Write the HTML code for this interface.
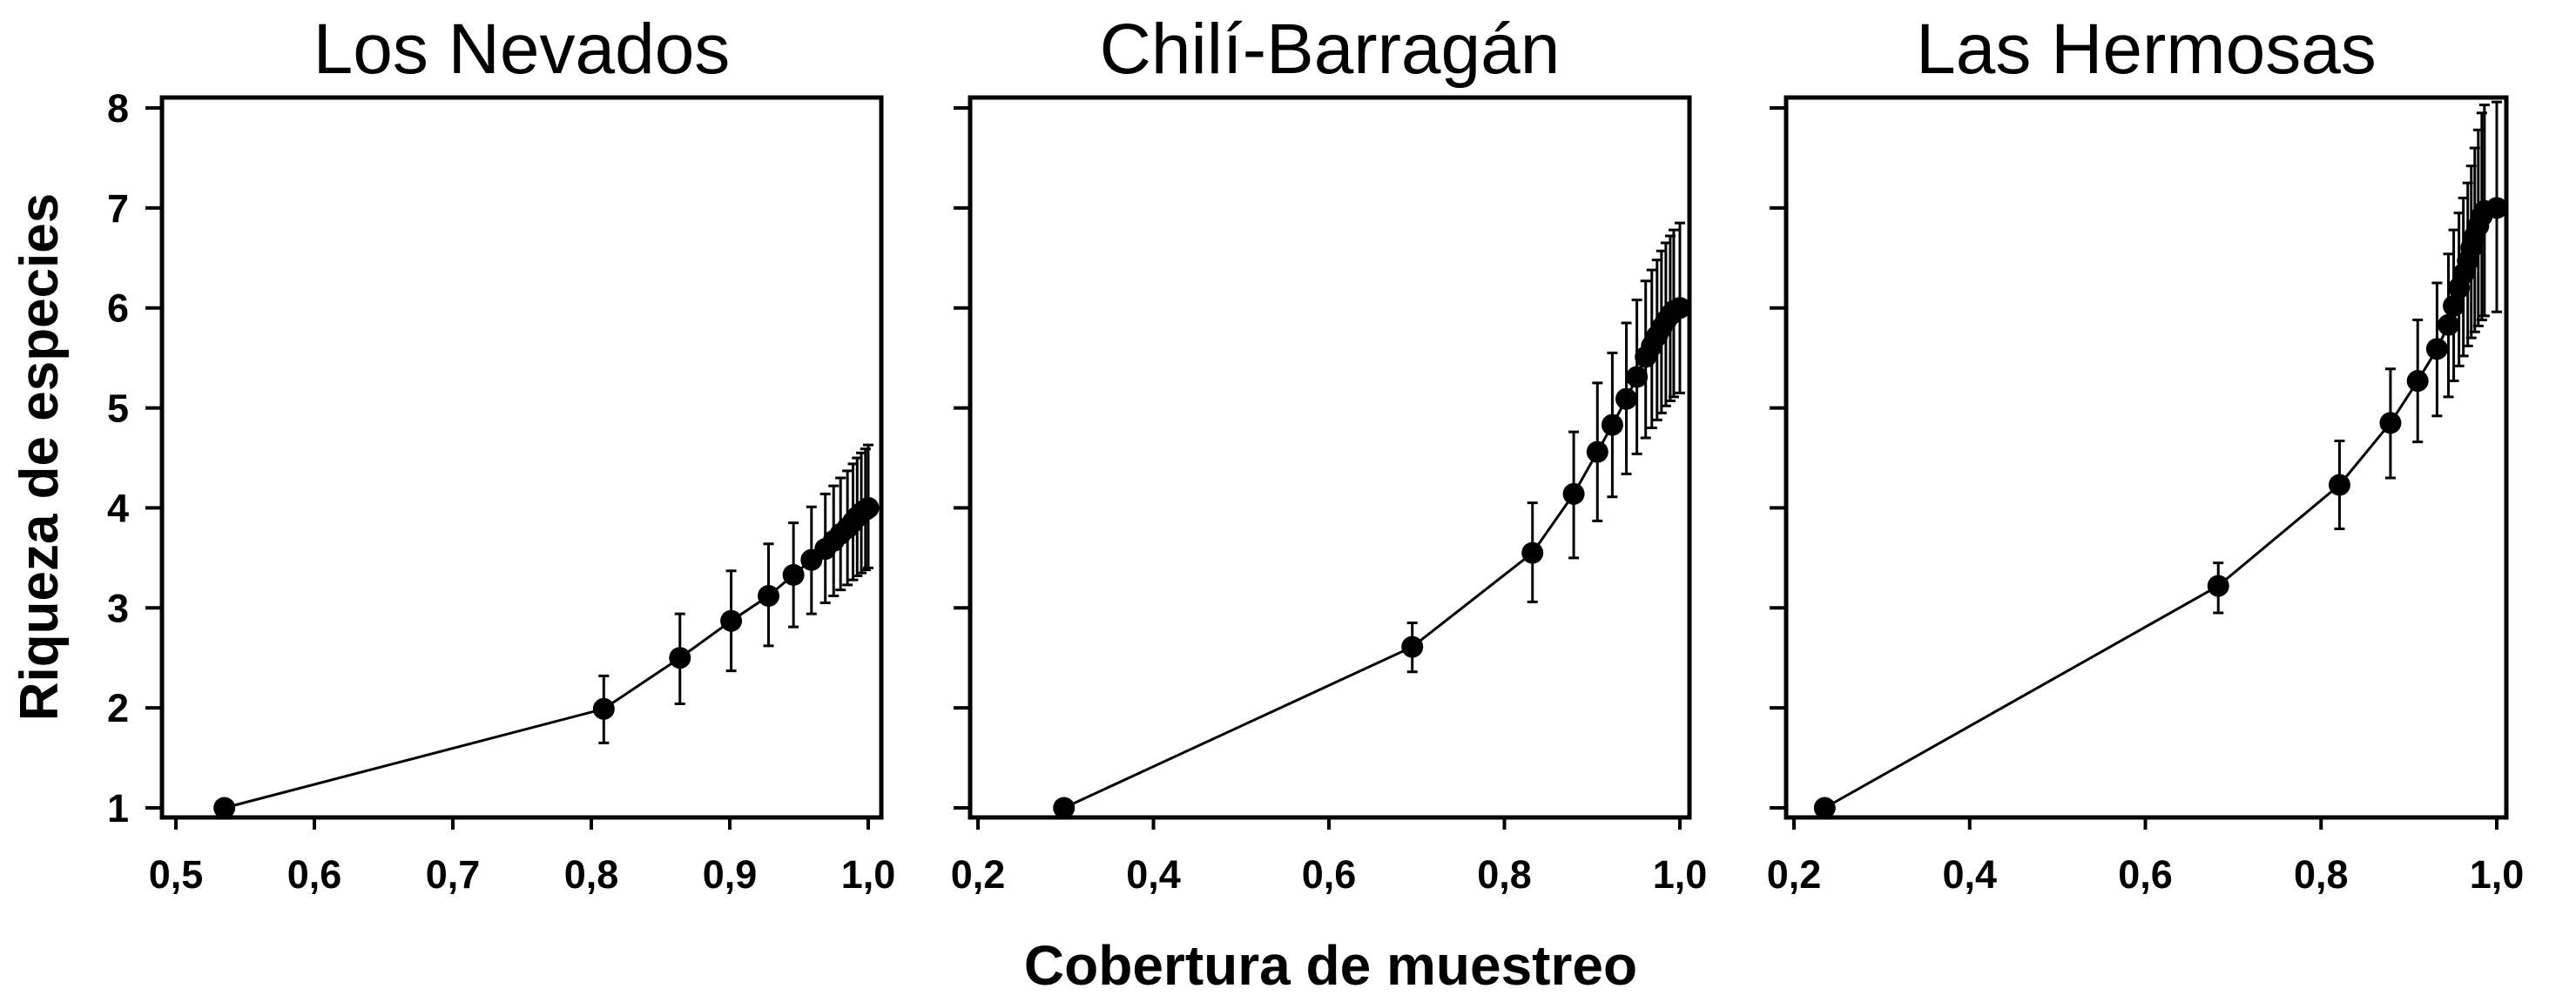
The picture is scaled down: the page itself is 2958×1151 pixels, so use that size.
<!DOCTYPE html>
<html><head><meta charset="utf-8">
<style>
html,body{margin:0;padding:0;background:#fff;}
svg{display:block;}
text{font-family:"Liberation Sans",Arial,sans-serif;fill:#000;}
</style></head>
<body>
<svg id="chart" width="2958" height="1151" viewBox="0 0 2958 1151" xmlns="http://www.w3.org/2000/svg">
<text x="0" y="0" transform="translate(66,525) rotate(-90)" text-anchor="middle" font-size="62" font-weight="bold">Riqueza de especies</text>
<text x="1528" y="1131" text-anchor="middle" font-size="64" font-weight="bold">Cobertura de muestreo</text>
</svg>
<script>
const panelTitles = ["Los Nevados", "Chilí-Barragán", "Las Hermosas"];
const xTicks1 = [0.5, 0.6, 0.7, 0.8, 0.9, 1.0];
const xTickLabels1 = ["0,5", "0,6", "0,7", "0,8", "0,9", "1,0"];
const xTicks23 = [0.2, 0.4, 0.6, 0.8, 1.0];
const xTickLabels23 = ["0,2", "0,4", "0,6", "0,8", "1,0"];
const yTicks = [1, 2, 3, 4, 5, 6, 7, 8];

const nevX = [0.535, 0.809, 0.864, 0.901, 0.928, 0.946, 0.959, 0.969, 0.975, 0.980, 0.985, 0.989, 0.992, 0.995, 0.998, 1.0];
const nevY = [1.0, 1.99, 2.50, 2.87, 3.12, 3.33, 3.48, 3.59, 3.67, 3.74, 3.80, 3.86, 3.91, 3.95, 3.98, 4.0];
const nevHi = [1.0, 2.32, 2.94, 3.37, 3.64, 3.85, 4.01, 4.14, 4.22, 4.30, 4.37, 4.44, 4.50, 4.55, 4.59, 4.63];
const nevLo = [1.0, 1.65, 2.04, 2.37, 2.62, 2.81, 2.94, 3.05, 3.12, 3.18, 3.23, 3.28, 3.32, 3.35, 3.38, 3.40];

const chiX = [0.298, 0.695, 0.832, 0.879, 0.906, 0.923, 0.939, 0.951, 0.961, 0.968, 0.974, 0.979, 0.984, 0.989, 0.993, 1.0];
const chiY = [1.0, 2.61, 3.55, 4.14, 4.56, 4.83, 5.09, 5.31, 5.51, 5.62, 5.72, 5.80, 5.87, 5.93, 5.97, 6.0];
const chiHi = [1.0, 2.85, 4.05, 4.76, 5.25, 5.55, 5.85, 6.08, 6.27, 6.38, 6.48, 6.57, 6.65, 6.72, 6.78, 6.85];
const chiLo = [1.0, 2.36, 3.06, 3.50, 3.87, 4.11, 4.34, 4.54, 4.70, 4.80, 4.88, 4.95, 5.02, 5.07, 5.11, 5.15];

const herX = [0.235, 0.683, 0.821, 0.879, 0.910, 0.932, 0.945, 0.951, 0.957, 0.962, 0.967, 0.971, 0.975, 0.979, 0.983, 0.986, 1.0];
const herY = [1.0, 3.22, 4.23, 4.85, 5.27, 5.59, 5.83, 6.02, 6.20, 6.34, 6.47, 6.60, 6.72, 6.82, 6.92, 6.97, 7.0];
const herHi = [1.0, 3.45, 4.67, 5.39, 5.88, 6.25, 6.54, 6.78, 6.95, 7.10, 7.25, 7.42, 7.60, 7.78, 7.95, 8.03, 8.06];
const herLo = [1.0, 2.95, 3.79, 4.30, 4.66, 4.92, 5.11, 5.27, 5.42, 5.52, 5.62, 5.70, 5.76, 5.82, 5.88, 5.92, 5.96];

const NS = "http://www.w3.org/2000/svg";
const svg = document.getElementById("chart");
function mk(tag, attrs, parent) {
  const e = document.createElementNS(NS, tag);
  for (const k in attrs) e.setAttribute(k, attrs[k]);
  (parent || svg).appendChild(e);
  return e;
}
const yScale = v => 928 - (v - 1) * (928 - 124) / 7;

const panels = [
  {left:186, right:1012, x0:0.5, px0:202, per:1590, ticks:xTicks1, labels:xTickLabels1, xs:nevX, ys:nevY, hi:nevHi, lo:nevLo, showY:true, key:"los-nevados"},
  {left:1114, right:1940, x0:0.2, px0:1123, per:1007.5, ticks:xTicks23, labels:xTickLabels23, xs:chiX, ys:chiY, hi:chiHi, lo:chiLo, showY:false, key:"chili-barragan"},
  {left:2051, right:2878, x0:0.2, px0:2060, per:1008.75, ticks:xTicks23, labels:xTickLabels23, xs:herX, ys:herY, hi:herHi, lo:herLo, showY:false, key:"las-hermosas"}
];

panels.forEach((p, i) => {
  const g = mk("g", {});
  
  
  const xs = v => p.px0 + (v - p.x0) * p.per;
  const t = mk("text", {x:(p.left + p.right) / 2, y:84, "text-anchor":"middle", "font-size":82}, g);
  t.textContent = panelTitles[i];
  
  
  yTicks.forEach(v => {
    const tk = mk("line", {x1:p.left - 19, x2:p.left, y1:yScale(v), y2:yScale(v), stroke:"#000", "stroke-width":4}, g);
    
    
    if (p.showY) {
      const l = mk("text", {x:p.left - 38, y:yScale(v) + 16, "text-anchor":"end", "font-size":45, "font-weight":"bold"}, g);
      l.textContent = String(v);
      
      
    }
  });
  p.ticks.forEach((v, j) => {
    const tk = mk("line", {x1:xs(v), x2:xs(v), y1:939, y2:953, stroke:"#000", "stroke-width":4}, g);
    
    
    const l = mk("text", {x:xs(v), y:1020, "text-anchor":"middle", "font-size":45, "font-weight":"bold"}, g);
    l.textContent = p.labels[j];
    
    
  });
  p.xs.forEach((x, j) => {
    if (p.hi[j] === p.lo[j]) return;
    const cx = xs(x);
    const eb = mk("path", {d:`M${cx},${yScale(p.hi[j])}V${yScale(p.lo[j])}M${cx-6},${yScale(p.hi[j])}H${cx+6}M${cx-6},${yScale(p.lo[j])}H${cx+6}`, stroke:"#000", "stroke-width":3, fill:"none"}, g);
    
    
  });
  const pts = p.xs.map((x, j) => xs(x) + "," + yScale(p.ys[j])).join(" ");
  const pl = mk("polyline", {points:pts, fill:"none", stroke:"#000", "stroke-width":3}, g);
  
  
  p.xs.forEach((x, j) => {
    const c = mk("circle", {cx:xs(x), cy:yScale(p.ys[j]), r:12.5, fill:"#000"}, g);
    
    
  });
  const fr = mk("rect", {x:p.left, y:112, width:p.right - p.left, height:939 - 112, fill:"none", stroke:"#000", "stroke-width":5}, g);
  
  
});
</script>
</body></html>
